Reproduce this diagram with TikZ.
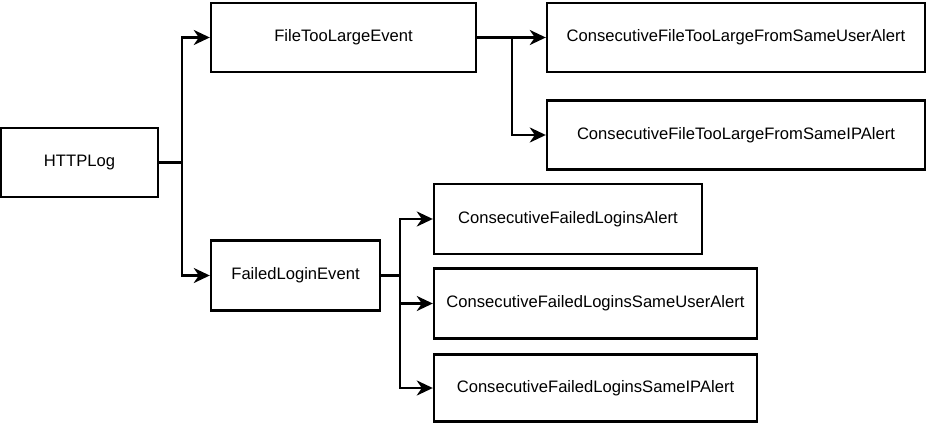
\documentclass[tikz,border=0pt]{standalone}
\usepackage{fontspec}
\setmainfont{Liberation Sans}
\usetikzlibrary{arrows.meta}
\begin{document}
\begin{tikzpicture}[x=1pt,y=-1pt,
  box/.style={draw,line width=2.4pt,inner sep=0pt,font=\fontsize{16.6}{18}\selectfont},
  conn/.style={line width=2.4pt},
  arr/.style={conn,-{Stealth[length=16pt,width=15pt,inset=5pt]}}]
\useasboundingbox (0,0) rectangle (929,425);
\node[box,minimum width=157pt,minimum height=69pt] (http) at (79.5,162.5) {HTTPLog};
\node[box,minimum width=265pt,minimum height=69pt] (ftl) at (343.5,37.5) {FileTooLargeEvent};
\node[box,minimum width=169pt,minimum height=70pt] (fle) at (295.5,275.5) {FailedLoginEvent};
\node[box,minimum width=378pt,minimum height=69pt] (u1) at (736,37.5) {ConsecutiveFileTooLargeFromSameUserAlert};
\node[box,minimum width=378pt,minimum height=69pt] (u2) at (736,135) {ConsecutiveFileTooLargeFromSameIPAlert};
\node[box,minimum width=268pt,minimum height=70pt] (f1) at (568,219) {ConsecutiveFailedLoginsAlert};
\node[box,minimum width=323pt,minimum height=70pt] (f2) at (595.5,303.5) {ConsecutiveFailedLoginsSameUserAlert};
\node[box,minimum width=323pt,minimum height=67pt] (f3) at (595.5,388) {ConsecutiveFailedLoginsSameIPAlert};
\coordinate (b1) at (182,162.5);
\coordinate (b2) at (512,37.5);
\coordinate (b3) at (400,275.5);
\draw[conn] (http.east) -- (b1);
\draw[arr] (b1) |- (ftl.west);
\draw[arr] (b1) |- (fle.west);
\draw[arr] (ftl.east) -- (u1.west);
\draw[arr] (b2) |- (u2.west);
\draw[conn] (fle.east) -- (b3);
\draw[arr] (b3) |- (f1.west);
\draw[arr] (b3) |- (f2.west);
\draw[arr] (b3) |- (f3.west);
\end{tikzpicture}
\end{document}
